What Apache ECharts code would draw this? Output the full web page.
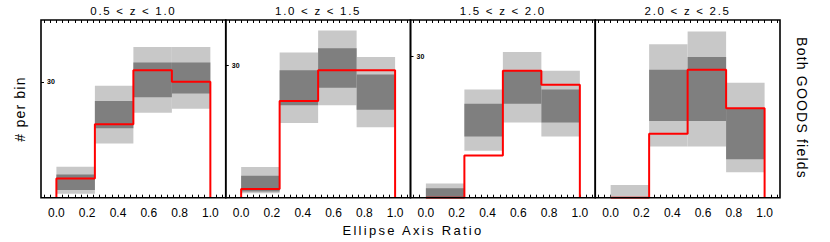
<!DOCTYPE html>
<html><head><meta charset="utf-8">
<script src="https://cdn.jsdelivr.net/npm/echarts@6/dist/echarts.min.js"></script>
<style>
html,body{margin:0;padding:0;background:#fff;}
#chart{width:830px;height:242px;}
#chart text[style*="11.5px"]{letter-spacing:1.7px;}
#chart text[style*="13px"]{letter-spacing:2.3px;}
#chart text[style*="14px"]{letter-spacing:1.2px;}
</style></head><body><div id="chart"></div>
<script>
// ---- data ----
const binEdges = [0, 0.25, 0.5, 0.75, 1.0];
const panelTitles = ['0.5 < z < 1.0', '1.0 < z < 1.5', '1.5 < z < 2.0', '2.0 < z < 2.5'];
const xTickLabels = [0.0, 0.2, 0.4, 0.6, 0.8, 1.0];
const yTickValues = [30];
const yMax = [46, 40.4, 37.8, 13.9];

// panel 1: 0.5 < z < 1.0
const red1 = [5, 19, 33, 30];
const light1Lo = [1, 14, 22, 23];
const light1Hi = [8, 29, 39, 39];
const dark1Lo = [2, 18, 26, 27];
const dark1Hi = [6, 25, 35, 35];
// panel 2: 1.0 < z < 1.5
const red2 = [2, 22, 29, 29];
const light2Lo = [1, 17, 21, 16];
const light2Hi = [7, 33, 38, 32];
const dark2Lo = [1.4, 21, 25, 20];
const dark2Hi = [5, 29, 34, 28];
// panel 3: 1.5 < z < 2.0
const red3 = [0, 9, 27, 24];
const light3Lo = [0, 10, 16, 13];
const light3Hi = [3, 23, 31, 27];
const dark3Lo = [0, 13, 20, 16];
const dark3Hi = [2, 20, 27, 23];
// panel 4: 2.0 < z < 2.5
const red4 = [0, 5, 10, 7];
const light4Lo = [0, 4, 4, 2];
const light4Hi = [1, 12, 13, 9];
const dark4Lo = [0, 6, 6, 3];
const dark4Hi = [0, 10, 11, 7];

const panels = [
  {red: red1, lLo: light1Lo, lHi: light1Hi, dLo: dark1Lo, dHi: dark1Hi},
  {red: red2, lLo: light2Lo, lHi: light2Hi, dLo: dark2Lo, dHi: dark2Hi},
  {red: red3, lLo: light3Lo, lHi: light3Hi, dLo: dark3Lo, dHi: dark3Hi},
  {red: red4, lLo: light4Lo, lHi: light4Hi, dLo: dark4Lo, dHi: dark4Hi}
];

// ---- layout ----
const gridLeft = [41, 225.75, 410.5, 595.25];
const gridWidth = 184.75;
const gridTop = 20;
const gridHeight = 177.7;
const FONT = "'Liberation Sans', Arial, sans-serif";
const LIGHT = '#c8c8c8', DARK = '#7f7f7f', RED = '#ff0000';

const minorTicks = [];
for (let i = -2; i <= 27; i++) minorTicks.push(Math.round(i * 4) / 100);

function bandRender(color) {
  return function (params, api) {
    const p0 = api.coord([api.value(0), api.value(3)]);
    const p1 = api.coord([api.value(1), api.value(2)]);
    return {type: 'rect', shape: {x: p0[0], y: p0[1], width: p1[0] - p0[0], height: p1[1] - p0[1]}, style: {fill: color}};
  };
}
function bandData(lo, hi) {
  const d = [];
  for (let i = 0; i < lo.length; i++) d.push([binEdges[i], binEdges[i + 1], lo[i], hi[i]]);
  return d;
}
function stepData(v) {
  const d = [[binEdges[0], 0]];
  for (let i = 0; i < v.length; i++) { d.push([binEdges[i], v[i]]); d.push([binEdges[i + 1], v[i]]); }
  d.push([binEdges[v.length], 0]);
  return d;
}

const grid = [], xAxis = [], yAxis = [], series = [];
panels.forEach((p, i) => {
  grid.push({left: gridLeft[i], top: gridTop, width: gridWidth, height: gridHeight, show: true,
    borderColor: '#000', borderWidth: 1.6, backgroundColor: 'transparent', z: 10, containLabel: false});
  const base = {gridIndex: i, type: 'value', min: -0.1, max: 1.1,
    axisLine: {show: false, onZero: false}, splitLine: {show: false},
    axisTick: {show: true, inside: true, length: 3, customValues: minorTicks, lineStyle: {color: '#000', width: 1}}};
  xAxis.push(Object.assign({}, base, {position: 'bottom',
    axisLabel: {show: true, customValues: xTickLabels, formatter: v => v.toFixed(1), color: '#000', fontSize: 12, fontFamily: FONT, margin: 9}}));
  xAxis.push(Object.assign({}, base, {position: 'top', axisLabel: {show: false}}));
  yAxis.push({gridIndex: i, type: 'value', min: 0, max: yMax[i], position: 'left',
    axisLine: {show: false, onZero: false}, splitLine: {show: false},
    axisTick: {show: true, inside: true, length: 3, customValues: yTickValues, lineStyle: {color: '#000', width: 1}},
    axisLabel: {show: true, inside: true, customValues: yTickValues, margin: 6, fontSize: 7, fontWeight: 'bold', color: '#000', fontFamily: FONT}});
  series.push({type: 'custom', xAxisIndex: 2 * i, yAxisIndex: i, renderItem: bandRender(LIGHT), data: bandData(p.lLo, p.lHi), encode: {x: [0, 1], y: [2, 3]}, clip: true, silent: true});
  series.push({type: 'custom', xAxisIndex: 2 * i, yAxisIndex: i, renderItem: bandRender(DARK), data: bandData(p.dLo, p.dHi), encode: {x: [0, 1], y: [2, 3]}, clip: true, silent: true});
  series.push({type: 'line', xAxisIndex: 2 * i, yAxisIndex: i, data: stepData(p.red), showSymbol: false, symbol: 'none',
    lineStyle: {color: RED, width: 2}, clip: true, silent: true, z: 3});
});

const graphic = panelTitles.map((t, i) => ({type: 'text', x: gridLeft[i] + gridWidth / 2, y: 11,
  style: {text: t, fontSize: 11.5, fontFamily: FONT, fill: '#000', textAlign: 'center', textVerticalAlign: 'middle', align: 'center', verticalAlign: 'middle'}}));
graphic.push({type: 'text', x: 413, y: 230, style: {text: 'Ellipse Axis Ratio', fontSize: 13, fontFamily: FONT, fill: '#000', textAlign: 'center', textVerticalAlign: 'middle', align: 'center', verticalAlign: 'middle'}});
graphic.push({type: 'text', x: 20, y: 109, rotation: Math.PI / 2, style: {text: '# per bin', fontSize: 14, fontFamily: FONT, fill: '#000', textAlign: 'center', textVerticalAlign: 'middle', align: 'center', verticalAlign: 'middle'}});
graphic.push({type: 'text', x: 802, y: 108, rotation: -Math.PI / 2, style: {text: 'Both GOODS fields', fontSize: 14, fontFamily: FONT, fill: '#000', textAlign: 'center', textVerticalAlign: 'middle', align: 'center', verticalAlign: 'middle'}});

const chart = echarts.init(document.getElementById('chart'), null, {renderer: 'svg'});
chart.setOption({animation: false, backgroundColor: '#fff', grid, xAxis, yAxis, series, graphic});
</script></body></html>
